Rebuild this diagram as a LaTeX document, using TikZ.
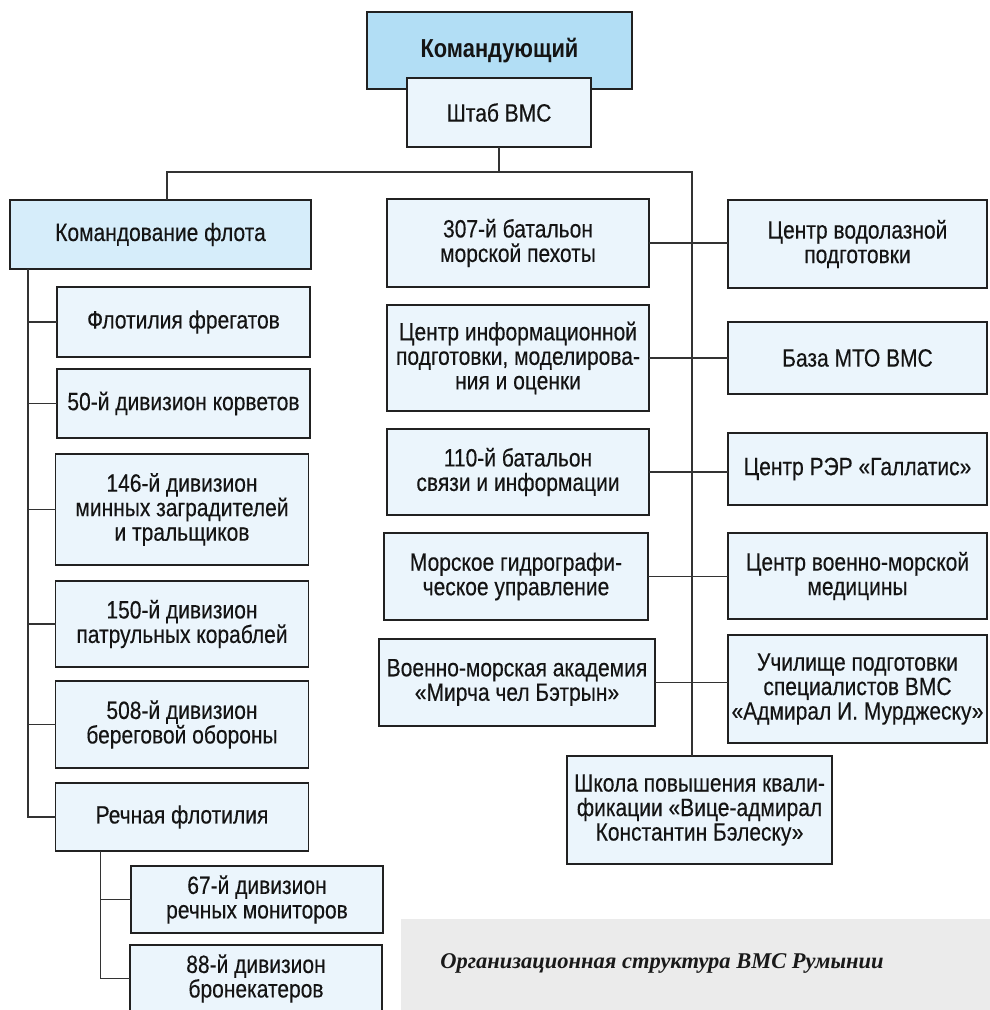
\documentclass[tikz,border=0pt]{standalone}
\usepackage{fontspec}
\setmainfont[FakeStretch=0.84, UprightFeatures={FakeBold=0.3}]{Liberation Sans}
\newfontfamily\capfont{Liberation Serif}
\usetikzlibrary{positioning}

\newlength{\du}
\setlength{\du}{1pt}

\definecolor{boxline}{rgb}{0.13,0.13,0.13}
\definecolor{linkline}{rgb}{0.20,0.20,0.20}
\definecolor{chieffill}{rgb}{0.70,0.87,0.96}
\definecolor{fleetfill}{rgb}{0.84,0.93,0.98}
\definecolor{unitfill}{rgb}{0.92,0.96,0.99}
\definecolor{capfill}{rgb}{0.92,0.92,0.92}

\tikzset{
  unitbox/.style={draw=boxline, fill=unitfill, line width=1.6\du, inner sep=0pt, outer sep=0pt,
    align=center, text=black!92, font=\fontsize{25}{24.5}\selectfont},
  chiefbox/.style={unitbox, fill=chieffill, font=\fontsize{26}{26}\selectfont\bfseries},
  fleetbox/.style={unitbox, fill=fleetfill},
  link/.style={draw=linkline, line width=1.1\du},
}

\begin{document}
\begin{tikzpicture}
\pgftransformxscale{1.000000}
\pgftransformyscale{-1.000000}
\useasboundingbox (0\du,0\du) rectangle (990\du,1010\du);
% top
\node[chiefbox, minimum width=265\du, minimum height=77\du] (chief) at (499.5\du,50.5\du) {\raisebox{5\du}{Командующий}};
\node[unitbox, minimum width=184\du, minimum height=69\du] (shtab) at (499\du,112.5\du) {Штаб ВМС};
% fleet column
\node[fleetbox, minimum width=301\du, minimum height=69\du] (fleet) at (160.5\du,234.5\du) {Командование флота};
\node[unitbox, minimum width=253\du, minimum height=70\du] (frig) at (183.5\du,322\du) {Флотилия фрегатов};
\node[unitbox, minimum width=253\du, minimum height=69\du] (corv) at (183.5\du,403.5\du) {50-й дивизион корветов};
\node[unitbox, minimum width=253\du, minimum height=111\du] (mine) at (182\du,509.5\du) {146-й дивизион\\минных заградителей\\и тральщиков};
\node[unitbox, minimum width=253\du, minimum height=86\du] (patrol) at (182\du,624\du) {150-й дивизион\\патрульных кораблей};
\node[unitbox, minimum width=253\du, minimum height=87\du] (coast) at (182\du,724.5\du) {508-й дивизион\\береговой обороны};
\node[unitbox, minimum width=253\du, minimum height=68\du] (river) at (182\du,817\du) {Речная флотилия};
\node[unitbox, minimum width=252\du, minimum height=67\du] (monit) at (257\du,899.5\du) {67-й дивизион\\речных мониторов};
\node[unitbox, minimum width=252\du, minimum height=67\du] (armor) at (256\du,978.5\du) {88-й дивизион\\бронекатеров};
% middle column
\node[unitbox, minimum width=262\du, minimum height=88\du] (marine) at (518\du,243\du) {307-й батальон\\морской пехоты};
\node[unitbox, minimum width=262\du, minimum height=106\du] (infoc) at (518\du,358\du) {Центр информационной\\подготовки, моделирова-\\ния и оценки};
\node[unitbox, minimum width=262\du, minimum height=86\du] (signal) at (518\du,472\du) {110-й батальон\\связи и информации};
\node[unitbox, minimum width=264\du, minimum height=87\du] (hydro) at (516\du,576.5\du) {Морское гидрографи-\\ческое управление};
\node[unitbox, minimum width=276\du, minimum height=87\du] (acad) at (517\du,682.5\du) {Военно-морская академия\\«Мирча чел Бэтрын»};
% right column
\node[unitbox, minimum width=259\du, minimum height=88\du] (diver) at (857.5\du,244\du) {Центр водолазной\\подготовки};
\node[unitbox, minimum width=259\du, minimum height=72\du] (supply) at (857.5\du,358\du) {База МТО ВМС};
\node[unitbox, minimum width=259\du, minimum height=72\du] (ew) at (857.5\du,469\du) {Центр РЭР «Галлатис»};
\node[unitbox, minimum width=259\du, minimum height=86\du] (med) at (857.5\du,576\du) {Центр военно-морской\\медицины};
\node[unitbox, minimum width=259\du, minimum height=108\du] (school) at (857.5\du,689\du) {Училище подготовки\\специалистов ВМС\\«Адмирал И. Мурджеску»};
\node[unitbox, minimum width=265\du, minimum height=108\du] (course) at (699.5\du,810\du) {Школа повышения квали-\\фикации «Вице-адмирал\\Константин Бэлеску»};
% bus lines
\coordinate (bus) at (692\du,172\du);
\draw[link] (shtab.south) -- (shtab.south |- bus);
\draw[link] ([xshift=6.5\du]fleet.north) |- (bus) -- (bus |- course.north);
\draw[link] ([xshift=18\du]fleet.south west) |- (frig.west);
\draw[link] ([xshift=18\du]fleet.south west) |- (corv.west);
\draw[link] ([xshift=18\du]fleet.south west) |- (mine.west);
\draw[link] ([xshift=18\du]fleet.south west) |- (patrol.west);
\draw[link] ([xshift=18\du]fleet.south west) |- (coast.west);
\draw[link] ([xshift=18\du]fleet.south west) |- (river.west);
\draw[link] ([xshift=45\du]river.south west) |- (monit.west);
\draw[link] ([xshift=45\du]river.south west) |- (armor.west);
\draw[link] (marine.east) -- (marine.east -| diver.west);
\draw[link] (infoc.east) -- (infoc.east -| supply.west);
\draw[link] (signal.east) -- (signal.east -| ew.west);
\draw[link] (hydro.east) -- (hydro.east -| med.west);
\draw[link] (acad.east) -- (acad.east -| school.west);
% caption
\fill[capfill] (401\du,919\du) rectangle (992\du,1012\du);
\node[font=\capfont\bfseries\itshape\fontsize{22.5}{27}\selectfont, text=black!90] (caption) at (662\du,963\du) {Организационная структура ВМС Румынии};
\end{tikzpicture}
\end{document}
